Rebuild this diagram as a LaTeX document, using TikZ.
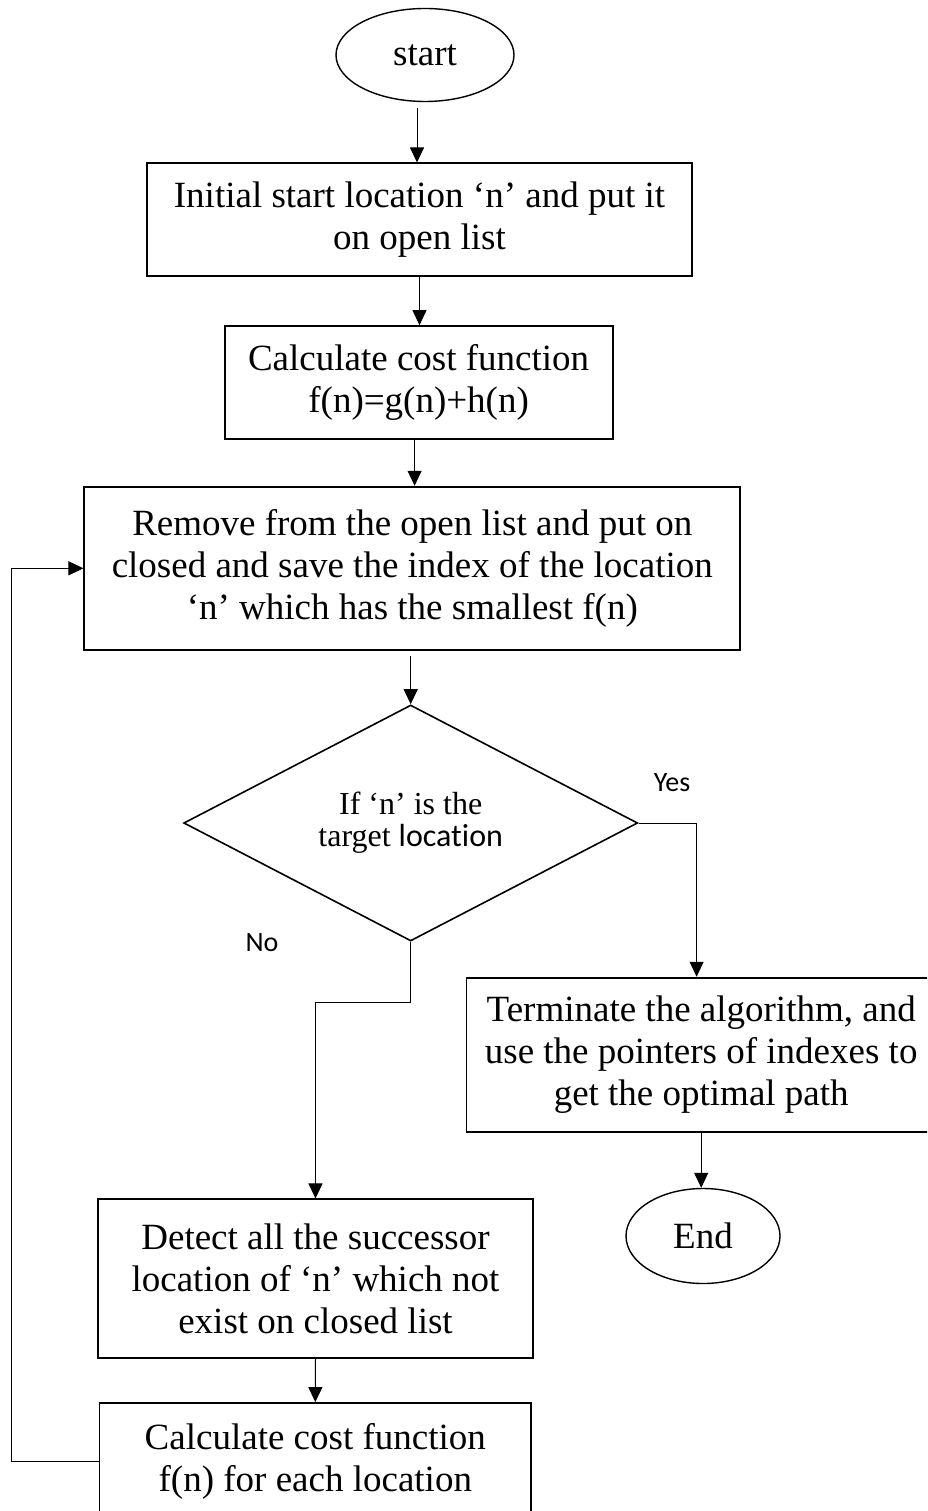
\documentclass[tikz,border=0pt]{standalone}
\usepackage{fontspec}
\setmainfont{Liberation Serif}
\newfontfamily\calibrifont[Ligatures=NoCommon]{Carlito}
\usetikzlibrary{shapes.geometric,arrows.meta,calc}
\begin{document}
\begin{tikzpicture}[x=1pt,y=-1pt,
  box/.style={draw,line width=1.8pt,inner sep=0pt,align=center,font=\fontsize{37}{42}\selectfont},
  term/.style={draw,ellipse,line width=1.4pt,inner sep=0pt,font=\fontsize{37}{42}\selectfont},
  decision/.style={draw,diamond,aspect=2,line width=1.6pt,inner sep=0pt,minimum width=454pt,minimum height=236pt,align=center,font=\fontsize{32}{32}\selectfont},
  conn/.style={line width=1pt},
  arr/.style={conn,-{Triangle[length=15pt,width=14pt]}},
  lbl/.style={font=\calibrifont\fontsize{28}{30}\selectfont,inner sep=0pt}]
\clip (0,0) rectangle (927,1511);
\node[term,minimum width=178pt,minimum height=93pt] (start) at (425,55) {start};
\node[box,minimum width=545.4pt,minimum height=112.7pt] (b1) at (419.5,219.7) {Initial start location ‘n’ and put it\\on open list};
\node[box,minimum width=388pt,minimum height=113.3pt] (b2) at (418.6,382.7) {Calculate cost function\\f(n)=g(n)+h(n)};
\node[box,minimum width=655.9pt,minimum height=163.3pt] (b3) at (412.3,568.3) {Remove from the open list and put on\\closed and save the index of the location\\‘n’ which has the smallest f(n)};
\node[decision] (dia) at (410.7,823) {If ‘n’ is the\\target {\calibrifont location}};
\node[box,minimum width=469.6pt,minimum height=154.3pt] (b4) at (701.2,1054.8) {Terminate the algorithm, and\\use the pointers of indexes to\\get the optimal path};
\node[term,minimum width=154pt,minimum height=95pt] (end) at (703,1236) {End};
\node[box,minimum width=435pt,minimum height=158.7pt] (b5) at (315.5,1278.7) {Detect all the successor\\location of ‘n’ which not\\exist on closed list};
\node[box,minimum width=431.5pt,minimum height=116pt] (b6) at (315.3,1461) {Calculate cost function\\f(n) for each location};
\node[lbl] (yes) at (672,783) {Yes};
\node[lbl] (no) at (262,943) {No};
\coordinate (p0) at ($(start.south)+(-8,6)$);
\draw[arr] (p0) -- (p0 |- b1.north);
\draw[arr] (b1.south) -- (b1.south |- b2.north);
\coordinate (p2) at ($(b2.south)+(-4,0)$);
\draw[arr] (p2) -- (p2 |- b3.north);
\coordinate (p3) at ($(b3.south)+(0,5)$);
\draw[arr] (p3 -| dia.north) -- (dia.north);
\draw[arr] (dia.east) -| ($(b4.north)+(-4.6,0)$);
\draw[arr] (dia.south) -- ++(0,61) -| (b5.north);
\draw[arr] (b4.south) -- (b4.south |- end.north);
\draw[arr] (b5.south) -- (b6.north);
\draw[arr] (b6.west) -- ++(-86.8,0) |- (b3.west);
\end{tikzpicture}
\end{document}
